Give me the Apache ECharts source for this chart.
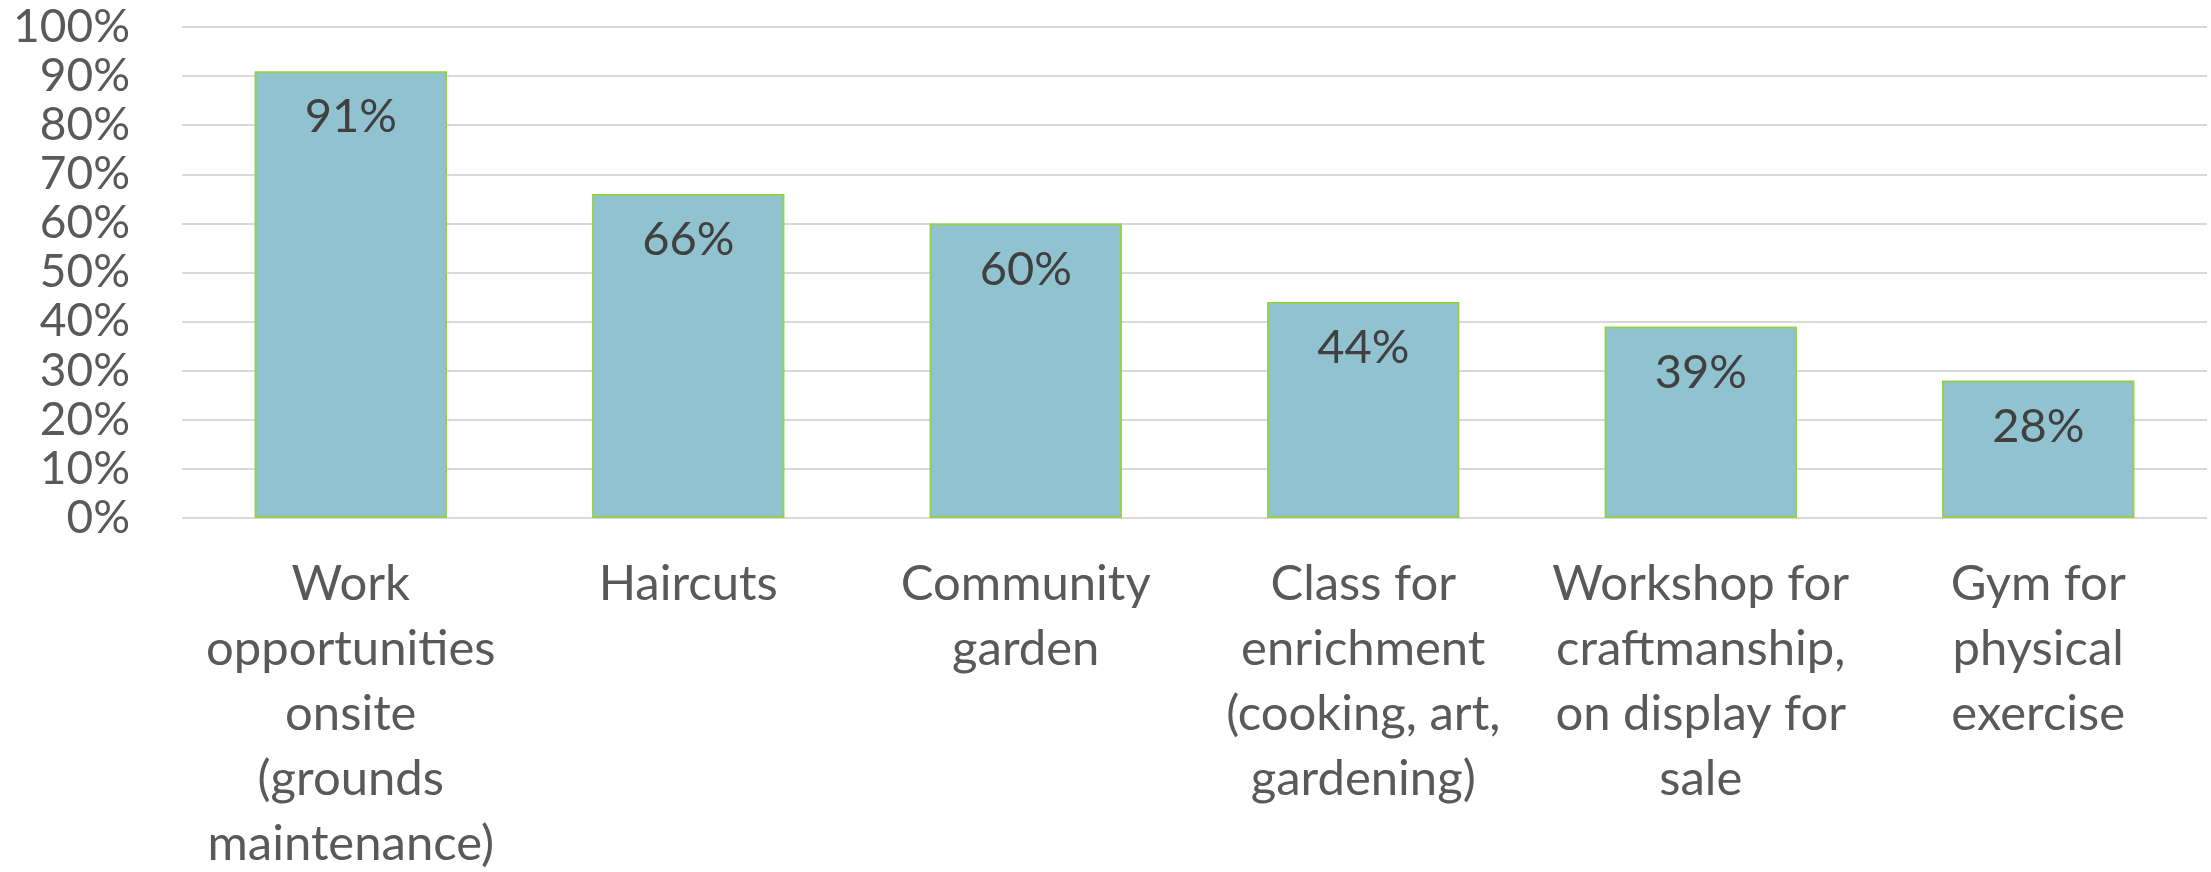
<!DOCTYPE html>
<html>
<head>
<meta charset="utf-8">
<style>
  html, body { margin: 0; padding: 0; background: #ffffff; }
  #chart { width: 2211px; height: 872px; }
</style>
<script src="https://cdn.jsdelivr.net/npm/echarts@6/dist/echarts.min.js"></script>
</head>
<body>
<div id="chart"></div>
<script>
// Amenities and the share of respondents who want each one
const categories = [
  'Work\nopportunities\nonsite\n(grounds\nmaintenance)',
  'Haircuts',
  'Community\ngarden',
  'Class for\nenrichment\n(cooking, art,\ngardening)',
  'Workshop for\ncraftmanship,\non display for\nsale',
  'Gym for\nphysical\nexercise'
];
const shares = [91, 66, 60, 44, 39, 28];
const yTicks = { min: 0, max: 100, interval: 10 };

const FONT = 'Lato';
const chart = echarts.init(document.getElementById('chart'), null, { renderer: 'canvas' });

chart.setOption({
  backgroundColor: '#ffffff',
  animation: false,
  grid: {
    left: 182, right: 4, top: 27, bottom: 354,
    containLabel: false,
    outerBoundsMode: 'none'
  },
  xAxis: {
    type: 'category',
    data: categories,
    axisLine: { show: false },
    axisTick: { show: false },
    axisLabel: {
      interval: 0,
      margin: 34,
      color: '#595959',
      fontFamily: FONT,
      fontSize: 49,
      lineHeight: 65,
      align: 'center',
      verticalAlign: 'top'
    }
  },
  yAxis: {
    type: 'value',
    min: yTicks.min,
    max: yTicks.max,
    interval: yTicks.interval,
    axisLine: { show: false },
    axisTick: { show: false },
    splitLine: { lineStyle: { color: '#D9D9D9', width: 2 } },
    axisLabel: {
      margin: 52,
      color: '#595959',
      fontFamily: FONT,
      fontSize: 46,
      formatter: v => v + '%'
    }
  },
  series: [{
    type: 'bar',
    data: shares,
    barWidth: '57%',
    itemStyle: { color: '#90C2CF', borderColor: '#92D050', borderWidth: 2 },
    label: {
      show: true,
      position: 'insideTop',
      distance: 23,
      color: '#404040',
      fontFamily: FONT,
      fontSize: 47,
      lineHeight: 46,
      formatter: p => p.value + '%'
    }
  }]
});
</script>
</body>
</html>
